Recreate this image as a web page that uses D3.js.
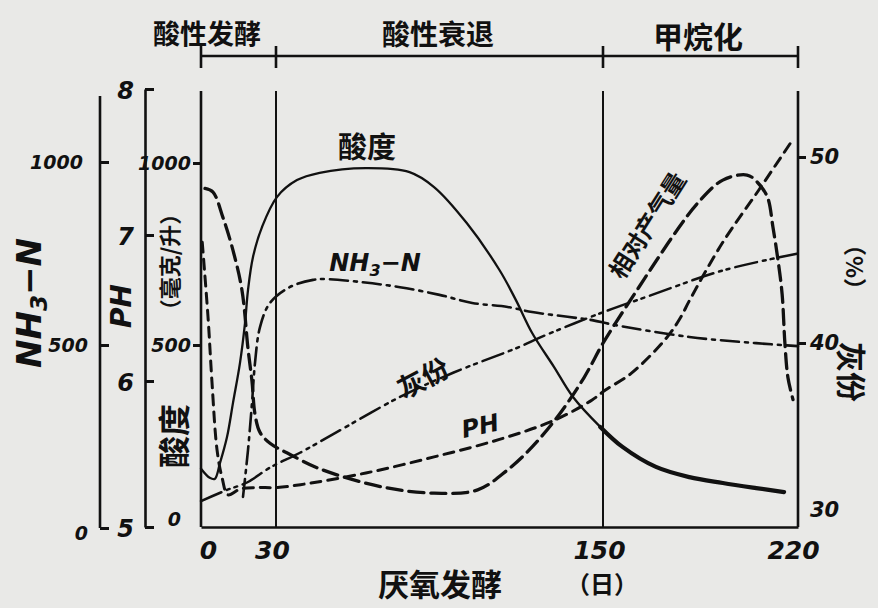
<!DOCTYPE html>
<html>
<head>
<meta charset="utf-8">
<script src="https://cdn.jsdelivr.net/npm/d3@7"></script>
<style>
  body { margin: 0; background: #e9e9e7; }
  svg { display: block; }
  .cjk { font-family: "Noto Sans CJK SC", sans-serif; font-weight: 700; fill: #111; }
  .num { font-family: "DejaVu Sans", sans-serif; font-weight: 700; font-style: italic; fill: #111; }
</style>
</head>
<body>
<div id="chart"></div>
<script>
// days on x
const dayTicks = [0, 30, 150, 220];
const phases = ["酸性发酵", "酸性衰退", "甲烷化"];

const acidity = [[0,160],[3.5,135],[5.5,132],[7.6,176],[10.4,247],[12.8,341],[15.6,451],[17.6,560],[18.8,651],[20.8,742],[24.4,824],[30.4,907],[37.7,953],[46,973],[63,986],[79,975],[88,934],[100,835],[112,706],[118,624],[124,533],[132,440],[139,357],[149,275],[157,220],[169,165],[181,137],[193,121],[205,107],[215,96]];
const ph = [[0.5,6.95],[2.8,6.44],[4.4,5.99],[6.4,5.53],[8.4,5.34],[10.8,5.22],[15.6,5.26],[22,5.27],[30,5.27],[39,5.29],[63,5.37],[88,5.48],[112,5.6],[132,5.73],[146,5.87],[151,5.94],[160,6.05],[173,6.3],[178,6.44],[181,6.55],[193,6.95],[206,7.31],[218,7.65]];
const nh3 = [[16.8,85],[18.8,213],[20.4,342],[21.6,451],[23.6,549],[27.6,615],[35,658],[43.6,678],[49,680],[61,672],[75.5,658],[90,637],[102,615],[115,604],[124,590],[137,577],[146,568],[154,555],[181,522],[205,505],[220,497]];
const ash = [[0,31.5],[10.4,32.1],[18.4,32.5],[27.6,33.3],[38.8,34.1],[51,35.1],[75.5,37.1],[95,38.4],[119.5,39.8],[127,40.3],[149,41.6],[166,42.5],[193,43.9],[219.6,44.8]];
const gas = [[1.6,93],[4.8,92],[8.8,85],[12.8,76],[16.4,65],[18.8,49],[20.4,40],[21.6,31],[23.6,26],[27.6,23],[35,20],[46,16],[69,11],[88,9.3],[104,10.2],[115,15.7],[124,22],[134,31],[143,41],[150,50.5],[157,59],[163,66],[169,73],[177,82],[184,89],[193,95.3],[201.7,96.7],[205.3,94.8],[209,90.7],[211,82.4],[212.8,73.4],[214.3,64],[215.3,50.5],[216.4,41],[218.2,35]];

const nh3Ticks = [0, 500, 1000];
const phTicks = [5, 6, 7, 8];
const acidTicks = [0, 500, 1000];
const ashTicks = [30, 40, 50];

const width = 878, height = 608;
const plotTop = 91, plotBottom = 527;

const svg = d3.select("#chart").append("svg")
    .attr("width", width)
    .attr("height", height)
    .attr("viewBox", [0, 0, width, height]);

// hand drawn axis is not evenly spaced
const x = d3.scaleLinear().domain(dayTicks).range([201, 276, 603, 798]);
const yAcid = d3.scaleLinear().domain([0, 1000]).range([527, 163]);
const yNh3 = d3.scaleLinear().domain([0, 1000]).range([528, 162]);
const yPh = d3.scaleLinear().domain([5, 8]).range([527, 89]);
const yAsh = d3.scaleLinear().domain([30, 50]).range([529, 157]);
const yGas = d3.scaleLinear().domain([0, 100]).range([527, 163]);

const ink = "#111";
const fmt = d3.format("d");

// frame: bottom axis + vertical day lines
svg.append("g")
    .attr("transform", `translate(0,${plotBottom})`)
    .call(d3.axisBottom(x).tickValues(dayTicks).tickSize(0).tickPadding(14).tickFormat(fmt))
    .call(g => g.select(".domain").attr("stroke", ink).attr("stroke-width", 2.6))
    .call(g => g.selectAll("text")
        .attr("class", "num").attr("font-size", 25)
        .attr("dx", (d, i) => [7, -4, -4, -5][i]));

svg.append("g").selectAll("line")
    .data(dayTicks)
    .join("line")
    .attr("x1", d => x(d)).attr("x2", d => x(d))
    .attr("y1", plotTop).attr("y2", plotBottom)
    .attr("stroke", ink)
    .attr("stroke-width", (d, i) => i === 0 || i === 3 ? 2.6 : 2);

// phase bar on top
svg.append("line")
    .attr("x1", x(0)).attr("x2", x(220))
    .attr("y1", 56).attr("y2", 56)
    .attr("stroke", ink).attr("stroke-width", 2.6);
svg.append("g").selectAll("line")
    .data(dayTicks)
    .join("line")
    .attr("x1", d => x(d)).attr("x2", d => x(d))
    .attr("y1", 46).attr("y2", 68)
    .attr("stroke", ink).attr("stroke-width", 2.6);
svg.append("g").selectAll("text")
    .data(phases)
    .join("text")
    .attr("class", "cjk")
    .attr("font-size", (d, i) => [27, 28, 30][i])
    .attr("text-anchor", "middle")
    .attr("x", (d, i) => [207, 438, 698][i])
    .attr("y", (d, i) => [44, 45, 48][i])
    .text(d => d);

// left axes
svg.append("g")
    .attr("transform", "translate(100,0)")
    .call(d3.axisLeft(yNh3).tickValues(nh3Ticks).tickFormat(fmt).tickSizeInner(-9).tickSizeOuter(0).tickPadding(12))
    .call(g => g.select(".domain").attr("d", `M0,${yNh3(0)}V${yNh3(1180)}`).attr("stroke", ink).attr("stroke-width", 2.6))
    .call(g => g.selectAll("line").attr("stroke", ink).attr("stroke-width", 3))
    .call(g => g.selectAll("text").attr("class", "num").attr("font-size", 19)
        .attr("dy", d => d === 0 ? "0.6em" : "0.35em").attr("dx", d => d === 1000 ? -5 : 0));

svg.append("g")
    .attr("transform", "translate(145,0)")
    .call(d3.axisLeft(yPh).tickValues(phTicks).tickFormat(fmt).tickSizeInner(-9).tickSizeOuter(0).tickPadding(11))
    .call(g => g.select(".domain").attr("stroke", ink).attr("stroke-width", 2.6))
    .call(g => g.selectAll("line").attr("stroke", ink).attr("stroke-width", 3))
    .call(g => g.selectAll("text").attr("class", "num").attr("font-size", 24).attr("dy", "0.4em"));

svg.append("g")
    .attr("transform", `translate(${x(0)},0)`)
    .call(d3.axisLeft(yAcid).tickValues(acidTicks).tickFormat(fmt).tickSize(8).tickPadding(2))
    .call(g => g.select(".domain").remove())
    .call(g => g.selectAll("line").attr("stroke", ink).attr("stroke-width", 3).attr("opacity", d => d === 0 ? 0 : 1))
    .call(g => g.selectAll("text").attr("class", "num").attr("font-size", 19)
        .attr("dy", d => d === 0 ? "-0.1em" : "0.35em").attr("dx", d => d === 0 ? -10 : 0));

// right axis
svg.append("g")
    .attr("transform", `translate(${x(220)},0)`)
    .call(d3.axisRight(yAsh).tickValues(ashTicks).tickFormat(fmt).tickSize(8).tickPadding(4))
    .call(g => g.select(".domain").remove())
    .call(g => g.selectAll("line").attr("stroke", ink).attr("stroke-width", 3).attr("opacity", d => d === 30 ? 0 : 1))
    .call(g => g.selectAll("text").attr("class", "num").attr("font-size", 21)
        .attr("dy", d => d === 30 ? "-0.6em" : "0.3em"));

// axis titles
const nh3Title = svg.append("text")
    .attr("class", "num")
    .attr("font-size", 34)
    .attr("text-anchor", "middle")
    .attr("transform", "translate(41,303) rotate(-90)");
nh3Title.append("tspan").text("NH");
nh3Title.append("tspan").attr("font-size", 23).attr("dy", 6).text("3");
nh3Title.append("tspan").attr("dy", -6).text("−N");

svg.append("text").attr("class", "num").attr("font-size", 28)
    .attr("text-anchor", "middle")
    .attr("transform", "translate(131,306) rotate(-90)")
    .text("PH");
svg.append("text").attr("class", "cjk").attr("font-size", 22)
    .attr("text-anchor", "middle")
    .attr("transform", "translate(178,262) rotate(-90)")
    .text("（毫克/升）");
svg.append("text").attr("class", "cjk").attr("font-size", 32)
    .attr("text-anchor", "middle")
    .attr("transform", "translate(186,436) rotate(-90)")
    .text("酸度");
svg.append("text").attr("class", "cjk").attr("font-size", 23)
    .attr("text-anchor", "middle")
    .attr("transform", "translate(846,267) rotate(90)")
    .text("（%）");
svg.append("text").attr("class", "cjk").attr("font-size", 30)
    .attr("text-anchor", "middle")
    .attr("transform", "translate(840,372) rotate(90)")
    .text("灰份");

svg.append("text").attr("class", "cjk").attr("font-size", 31)
    .attr("text-anchor", "middle").attr("x", 440).attr("y", 596)
    .text("厌氧发酵");
svg.append("text").attr("class", "cjk").attr("font-size", 24)
    .attr("text-anchor", "middle").attr("x", 602).attr("y", 593)
    .text("（日）");

// curves
const series = [
    {data: acidity, y: yAcid, dash: null, w: 2.3},
    {data: acidity.filter(d => d[0] >= 149), y: yAcid, dash: null, w: 4.2},
    {data: ph, y: yPh, dash: "10 7", w: 3},
    {data: gas, y: yGas, dash: "15 7", w: 3.3},
    {data: nh3, y: yNh3, dash: "18 6 3 6", w: 2.6},
    {data: ash, y: yAsh, dash: "22 6 3 5 3 6", w: 2.5}
];

svg.append("g").selectAll("path")
    .data(series)
    .join("path")
    .attr("fill", "none")
    .attr("stroke", ink)
    .attr("stroke-width", d => d.w)
    .attr("stroke-dasharray", d => d.dash)
    .attr("stroke-linecap", "round")
    .attr("d", d => d3.line()
        .curve(d3.curveCatmullRom)
        .x(p => x(p[0]))
        .y(p => d.y(p[1]))(d.data));

// curve labels
svg.append("text").attr("class", "cjk").attr("font-size", 29)
    .attr("text-anchor", "middle").attr("x", 367).attr("y", 158)
    .text("酸度");

const nh3Label = svg.append("text").attr("class", "num").attr("font-size", 24)
    .attr("text-anchor", "middle").attr("x", 375).attr("y", 271);
nh3Label.append("tspan").text("NH");
nh3Label.append("tspan").attr("font-size", 16).attr("dy", 5).text("3");
nh3Label.append("tspan").attr("dy", -5).text("−N");

svg.append("text").attr("class", "cjk").attr("font-size", 27)
    .attr("text-anchor", "middle")
    .attr("transform", "translate(428,387) rotate(-28)")
    .text("灰份");
svg.append("text").attr("class", "num").attr("font-size", 24)
    .attr("text-anchor", "middle")
    .attr("transform", "translate(482,434) rotate(-12)")
    .text("PH");
svg.append("text").attr("class", "cjk").attr("font-size", 24)
    .attr("text-anchor", "middle")
    .attr("transform", "translate(655,230) rotate(-57.6)")
    .text("相对产气量");
</script>
</body>
</html>
